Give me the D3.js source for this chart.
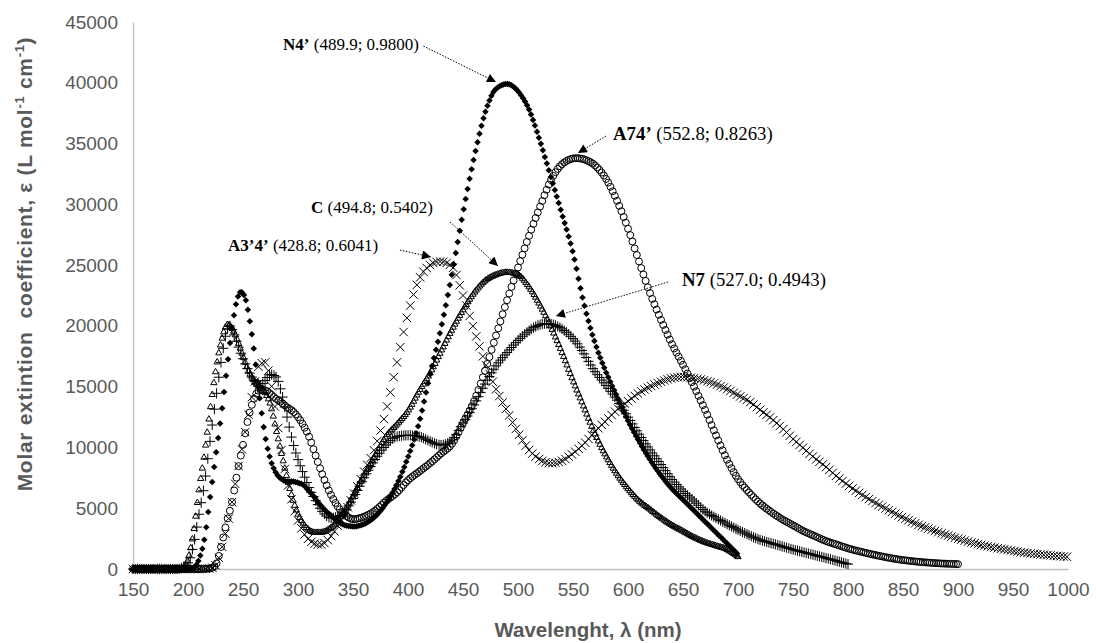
<!DOCTYPE html>
<html><head><meta charset="utf-8">
<script src="https://cdn.jsdelivr.net/npm/d3@7"></script>
<style>
body{margin:0;background:#fff;}
svg{display:block;}
</style>
</head><body>
<svg id="chart" width="1096" height="643"></svg>
<script>
// ---------- tick labels ----------
const xTicks = [150,200,250,300,350,400,450,500,550,600,650,700,750,800,850,900,950,1000];
const yTicks = [0,5000,10000,15000,20000,25000,30000,35000,40000,45000];

// ---------- series data (wavelength nm / molar extinction) ----------
const wlN4  = [150,160,170,180,190,200,205,210,215,220,225,230,235,240,245,248,252,256,260,265,270,275,280,285,290,295,300,305,310,315,320,325,330,335,340,345,350,355,360,370,380,390,400,410,420,430,440,450,460,470,480,490,500,510,520,530,540,550,560,570,580,590,600,610,620,630,640,650,660,670,680,690,700];
const epsN4 = [0,0,0,0,0,0,100,800,2500,5800,9200,12500,16200,19800,22300,22800,22300,20500,18000,14200,11000,9000,7900,7400,7200,7200,7100,6900,6400,5900,5300,4800,4400,4000,3700,3550,3500,3550,3700,4300,5400,7000,9200,12000,16000,19800,24300,29300,33800,37500,39500,39900,39300,37800,35200,32200,29200,26000,21800,18600,16200,14200,12200,10500,9000,7700,6600,5700,4800,3900,3000,2100,1200];

const wlA74  = [150,160,170,180,190,200,210,220,225,230,235,240,245,250,255,260,265,270,275,280,285,290,295,300,305,310,315,320,325,330,335,340,345,350,360,370,380,390,400,410,420,430,440,450,460,470,480,490,500,510,520,530,540,553,560,570,580,590,600,610,620,630,640,650,660,670,680,690,700,710,720,730,740,750,760,770,780,790,800,815,830,845,860,880,900];
const epsA74 = [0,0,0,0,0,0,0,50,300,1800,3800,5500,8000,10200,12500,14000,14700,14700,14400,14000,13700,13300,13000,12500,11800,10900,9600,8300,7100,6100,5300,4700,4300,4100,4300,4800,5600,6300,7300,8000,8700,9500,10300,12000,13800,16300,19200,22100,24800,27400,29800,32000,33300,33800,33700,33200,32100,30300,28000,25300,22700,20500,18500,16800,15000,13100,11000,9000,7400,6300,5400,4700,4100,3600,3100,2700,2300,2000,1700,1350,1050,800,630,480,400];

const wlC  = [150,160,170,180,190,195,200,205,210,215,220,225,230,236,240,245,250,255,260,265,270,275,280,285,290,295,300,305,310,315,320,325,330,335,340,350,360,370,380,390,400,410,420,430,440,450,460,470,480,490,500,510,520,530,540,550,560,570,580,590,600,610,620,630,640,650,660,670,680,690,700];
const epsC = [0,0,0,0,0,0,800,3000,6500,9500,13000,16200,18600,20100,19800,18800,17500,16300,15500,15000,14500,13500,11500,9500,7500,5800,4500,3700,3200,3000,3000,3100,3400,3800,4400,6000,7700,9300,10900,11900,13000,14600,16100,17900,19700,21300,22700,23700,24200,24400,24200,23200,21700,19900,17800,15500,13300,11100,9300,7800,6600,5600,4900,4200,3600,3100,2600,2200,1900,1600,1000];

const wlA34  = [150,160,170,180,190,200,210,220,225,230,235,240,245,250,255,260,265,270,275,280,285,290,295,300,305,310,315,320,325,330,340,350,360,370,380,390,400,410,420,429,440,450,460,470,480,490,500,510,520,530,540,550,560,570,580,590,600,610,620,630,640,650,660,670,680,690,700,710,720,730,740,750,760,770,780,790,800,820,840,860,880,900,920,940,960,980,1000];
const epsA34 = [0,0,0,0,0,0,0,50,300,1500,3300,5500,8000,10300,12700,15000,16800,17000,15500,12800,9800,7300,5400,4000,3000,2400,2100,2000,2200,2700,4200,6000,8000,10000,13000,17000,21000,23800,25000,25300,24900,22500,19700,17000,14800,13000,11200,9800,9000,8700,8900,9500,10300,11300,12200,13100,13800,14500,15000,15400,15700,15800,15700,15500,15200,14800,14300,13800,13100,12400,11600,10700,9900,9100,8400,7600,6900,5700,4700,3800,3100,2500,2000,1650,1350,1150,1000];

const wlN7  = [150,160,170,180,190,200,205,210,215,220,225,230,235,238,240,245,250,255,260,265,270,275,280,285,290,295,300,305,310,315,320,330,340,350,360,370,380,390,400,410,420,430,440,450,460,470,480,490,500,510,520,527,535,545,555,560,568,580,590,600,610,620,630,638,650,660,668,680,690,705,720,735,750,765,780,790,800];
const epsN7 = [0,0,0,0,0,500,2000,4500,7000,10500,13800,17000,19500,20000,19700,18500,17300,16300,15500,15000,15500,16000,15800,14500,12500,10500,9000,7800,6700,5800,5000,4200,4500,5800,7500,9000,10200,10900,11000,10900,10500,10200,10600,12000,13500,15200,16700,17800,18800,19600,20100,20200,20000,19400,18400,17700,16500,15100,13900,12500,11100,9800,8600,7600,6400,5600,4900,4200,3700,3000,2400,2000,1600,1250,900,650,400];

// ---------- annotations (labels in data units) ----------
const annotNames = ["N4’","A74’","C","A3’4’","N7"];
const annotTexts = [" (489.9; 0.9800)"," (552.8; 0.8263)"," (494.8; 0.5402)"," (428.8; 0.6041)"," (527.0; 0.4943)"];
const annotFont  = [17,18.8,17,17,18.8];
const annotLabelAt = [[286.4,43190],[586.4,35860],[311.8,29780],[236.4,26650],[649.1,23850]];
const annotFrom = [[414,43020],[580,35620],[438.2,28550],[392.7,26240],[636.4,23610]];
const annotTo   = [[480,40060],[554.5,34220],[481.8,24930],[420.9,25670],[534.5,20810]];

// ---------- setup ----------
const svg = d3.select("#chart");
const x = d3.scaleLinear().domain([150,1000]).range([133,1068]);
const y = d3.scaleLinear().domain([0,45000]).range([569,22]);
const axisColor = "#bfbfbf", textColor = "#595959";
const sans = "'Liberation Sans', Arial, sans-serif";
const serif = "'Liberation Serif', 'Times New Roman', serif";

// axes
const gx = svg.append("g").attr("transform","translate(0,569)")
  .call(d3.axisBottom(x).tickValues(xTicks).tickSize(0).tickPadding(14).tickFormat(d3.format("d")));
const gy = svg.append("g").attr("transform","translate(133,0)")
  .call(d3.axisLeft(y).tickValues(yTicks).tickSize(0).tickPadding(15).tickFormat(d3.format("d")));
[gx,gy].forEach(g=>{
  g.select(".domain").attr("stroke",axisColor).attr("stroke-width",1.3);
  g.selectAll("text").attr("fill",textColor).style("font-family",sans).style("font-size","19px");
});

// axis titles
svg.append("text").attr("x",588).attr("y",637).attr("text-anchor","middle")
  .style("font-family",sans).style("font-size","20.5px").style("font-weight","bold").attr("fill",textColor)
  .text("Wavelenght, λ (nm)");
const yt = svg.append("text").attr("transform","translate(32,264) rotate(-90)").attr("text-anchor","middle")
  .style("font-family",sans).style("font-size","21px").style("font-weight","bold")
  .style("letter-spacing","0.7px").attr("fill",textColor);
yt.append("tspan").text("Molar extintion\u00a0 coefficient, ε (L mol");
yt.append("tspan").attr("dy",-8).style("font-size","13px").text("-1");
yt.append("tspan").attr("dy",8).text(" cm");
yt.append("tspan").attr("dy",-8).style("font-size","13px").text("-1");
yt.append("tspan").attr("dy",8).text(")");

// ---------- series ----------
const series = [
  {wl:wlA34, eps:epsA34, type:d3.symbolTimes, size:48, fill:"none", stroke:"#000", step:3},
  {wl:wlN7,  eps:epsN7,  type:d3.symbolPlus,  size:36, fill:"none", stroke:"#000", step:2},
  {wl:wlC,   eps:epsC,   type:d3.symbolTriangle2, size:28, fill:"none", stroke:"#000", step:1.5},
  {wl:wlA74, eps:epsA74, type:d3.symbolCircle, size:38, fill:"none", stroke:"#000", step:2},
  {wl:wlN4,  eps:epsN4,  type:d3.symbolDiamond2, size:27, fill:"#000", stroke:"none", step:1.8}
];

const line = d3.line().x(d=>x(d[0])).y(d=>y(d[1])).curve(d3.curveMonotoneX);
const gS = svg.append("g");
series.forEach(s=>{
  const pts = s.wl.map((w,i)=>[w,s.eps[i]]);
  const path = gS.append("path").attr("d",line(pts)).attr("fill","none").attr("stroke","none");
  const node = path.node();
  const L = node.getTotalLength();
  const stepPx = x(150+s.step)-x(150);
  const markers = [];
  let nextX = x(s.wl[0]);
  const endX = x(s.wl[s.wl.length-1]);
  for(let l=0;l<=L;l+=0.25){
    const p = node.getPointAtLength(l);
    if(p.x>=nextX-0.01){ markers.push([p.x,p.y]); nextX += stepPx; }
  }
  const last = node.getPointAtLength(L);
  if(markers.length && Math.abs(markers[markers.length-1][0]-endX)>stepPx*0.5) markers.push([last.x,last.y]);
  const sym = d3.symbol().type(s.type).size(s.size);
  gS.append("g").selectAll("path").data(markers).join("path")
    .attr("d",sym).attr("transform",d=>`translate(${d[0]},${d[1]})`)
    .attr("fill",s.fill).attr("stroke",s.stroke).attr("stroke-width",s.stroke==="none"?0:1);
});

// ---------- annotations ----------
const defs = svg.append("defs");
defs.append("marker").attr("id","arrow").attr("viewBox","0 0 10 10").attr("refX",10).attr("refY",5)
  .attr("markerWidth",11).attr("markerHeight",9).attr("markerUnits","userSpaceOnUse").attr("orient","auto")
  .append("path").attr("d","M0,0 L10,5 L0,10 Z").attr("fill","#000");
const gA = svg.append("g");
annotNames.forEach((n,i)=>{
  gA.append("line").attr("x1",x(annotFrom[i][0])).attr("y1",y(annotFrom[i][1]))
    .attr("x2",x(annotTo[i][0])).attr("y2",y(annotTo[i][1]))
    .attr("stroke","#000").attr("stroke-width",1).attr("stroke-dasharray","1.5,1.5")
    .attr("marker-end","url(#arrow)");
  const t = gA.append("text").attr("x",x(annotLabelAt[i][0])).attr("y",y(annotLabelAt[i][1])).attr("dy","0.35em")
    .style("font-family",serif).style("font-size",annotFont[i]+"px").attr("fill","#000");
  t.append("tspan").style("font-weight","bold").text(n);
  t.append("tspan").text(annotTexts[i]);
});
</script>
</body></html>
